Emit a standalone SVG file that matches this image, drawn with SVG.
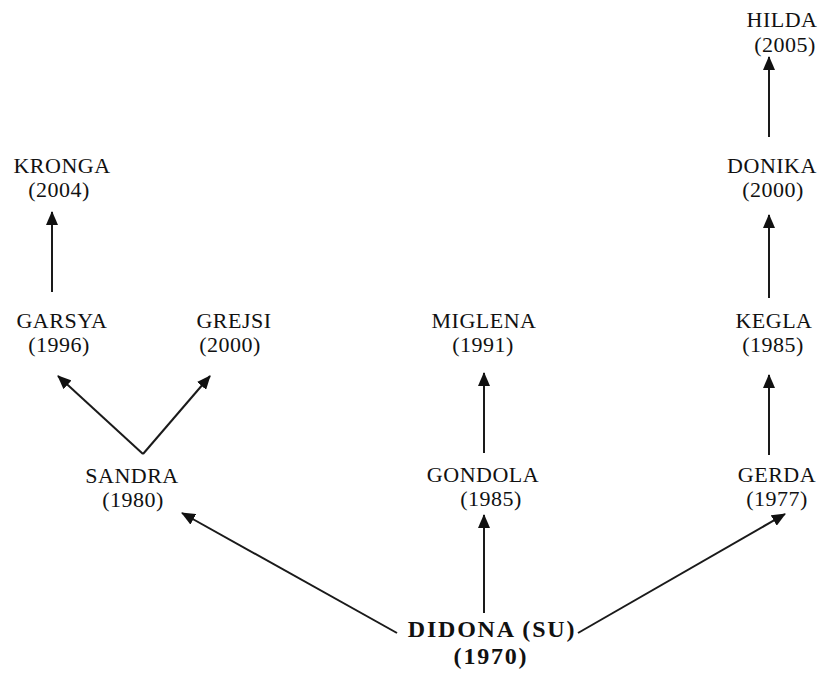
<svg xmlns="http://www.w3.org/2000/svg" width="824" height="677" viewBox="0 0 824 677">
  <defs>
    <style>
      .n { font-family: "Liberation Serif", "Times New Roman", serif; font-size: 22px; fill: #111; text-anchor: middle; letter-spacing: 0.5px; }
      .root { font-family: "Liberation Serif", "Times New Roman", serif; font-size: 24px; font-weight: bold; fill: #111; text-anchor: middle; letter-spacing: 1.8px; }
      .edge { stroke: #1a1a1a; stroke-width: 2; fill: none; marker-end: url(#arrow); }
    </style>
    <marker id="arrow" markerUnits="userSpaceOnUse" markerWidth="14" markerHeight="12" viewBox="0 0 14 12" refX="13" refY="6" orient="auto">
      <path d="M0,0 L14,6 L0,12 Z" fill="#111"/>
    </marker>
  </defs>

  <rect width="824" height="677" fill="#ffffff"/>

  <!-- connectors -->
  <g id="connectors">
    <line class="edge" x1="52" y1="292" x2="52" y2="212"/>
    <line class="edge" x1="143" y1="454" x2="58" y2="376"/>
    <line class="edge" x1="143" y1="454" x2="210" y2="376"/>
    <line class="edge" x1="397" y1="633" x2="182" y2="513"/>
    <line class="edge" x1="484" y1="613" x2="484" y2="515"/>
    <line class="edge" x1="484" y1="453" x2="484" y2="373"/>
    <line class="edge" x1="578" y1="633" x2="785" y2="514"/>
    <line class="edge" x1="769" y1="455" x2="769" y2="375"/>
    <line class="edge" x1="769" y1="298" x2="769" y2="215"/>
    <line class="edge" x1="769" y1="137" x2="769" y2="57"/>
  </g>

  <!-- nodes -->
  <g id="didona">
    <text class="root" x="492" y="637">DIDONA (SU)</text>
    <text class="root" x="491" y="664">(1970)</text>
  </g>
  <g id="sandra">
    <text class="n" x="132" y="483">SANDRA</text>
    <text class="n" x="133" y="507">(1980)</text>
  </g>
  <g id="garsya">
    <text class="n" x="62" y="328">GARSYA</text>
    <text class="n" x="59" y="352">(1996)</text>
  </g>
  <g id="grejsi">
    <text class="n" x="234" y="328">GREJSI</text>
    <text class="n" x="230" y="352">(2000)</text>
  </g>
  <g id="kronga">
    <text class="n" x="62" y="173">KRONGA</text>
    <text class="n" x="59" y="197">(2004)</text>
  </g>
  <g id="gondola">
    <text class="n" x="483" y="482">GONDOLA</text>
    <text class="n" x="491" y="506">(1985)</text>
  </g>
  <g id="miglena">
    <text class="n" x="484" y="328">MIGLENA</text>
    <text class="n" x="483" y="352">(1991)</text>
  </g>
  <g id="gerda">
    <text class="n" x="777" y="482">GERDA</text>
    <text class="n" x="777" y="506">(1977)</text>
  </g>
  <g id="kegla">
    <text class="n" x="774" y="328">KEGLA</text>
    <text class="n" x="773" y="352">(1985)</text>
  </g>
  <g id="donika">
    <text class="n" x="772" y="173">DONIKA</text>
    <text class="n" x="773" y="197">(2000)</text>
  </g>
  <g id="hilda">
    <text class="n" x="782" y="27">HILDA</text>
    <text class="n" x="785" y="52">(2005)</text>
  </g>
</svg>
